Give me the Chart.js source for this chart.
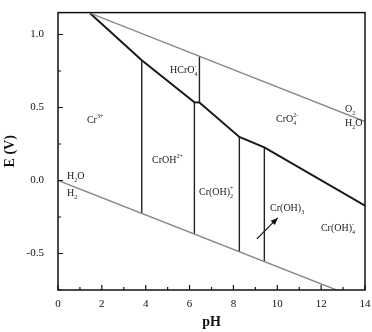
<!DOCTYPE html>
<html>
<head>
<meta charset="utf-8">
<script src="https://cdn.jsdelivr.net/npm/chart.js@4/dist/chart.umd.min.js"></script>
<style>
    html, body { margin: 0; padding: 0; background: #ffffff; }
</style>
</head>
<body>
<canvas id="pourbaixChart" width="372" height="332"></canvas>
<script>
// water stability lines
const o2LinePH = [1.46, 14];
const o2LineE = [1.146, 0.404];
const h2LinePH = [0, 12.7];
const h2LineE = [0, -0.75];

// Cr(VI) / Cr(III) boundary
const boundaryPH = [1.46, 3.82, 6.22, 6.45, 8.27, 9.41, 14];
const boundaryE = [1.146, 0.823, 0.536, 0.535, 0.298, 0.227, -0.172];

// vertical boundaries
const verticalPH = [3.82, 6.22, 6.45, 8.27, 9.41];
const verticalTopE = [0.823, 0.536, 0.849, 0.298, 0.227];
const verticalBottomE = [-0.225, -0.367, 0.535, -0.488, -0.555];

// arrow pointing to Cr(OH)3 label
const arrowPH = [9.07, 10.02];
const arrowE = [-0.40, -0.256];

// species labels (left edge pH, middle E)
const speciesText = ['Cr^{3+}', 'HCrO_{4}^{-}', 'CrOH^{2+}', 'CrO_{4}^{2-}', 'O_{2}', 'H_{2}O',
    'H_{2}O', 'H_{2}', 'Cr(OH)_{2}^{+}', 'Cr(OH)_{3}', 'Cr(OH)_{4}^{-}'];
const speciesPH = [1.32, 5.11, 4.29, 9.94, 13.09, 13.09, 0.41, 0.41, 6.43, 9.67, 11.99];
const speciesE = [0.41, 0.755, 0.14, 0.417, 0.49, 0.39, 0.025, -0.086, -0.08, -0.192, -0.331];

// ticks
const xTickValues = [0, 1, 2, 3, 4, 5, 6, 7, 8, 9, 10, 11, 12, 13, 14];
const xTickLabels = ['0', '', '2', '', '4', '', '6', '', '8', '', '10', '', '12', '', '14'];
const yTickValues = [-0.75, -0.5, -0.25, 0, 0.25, 0.5, 0.75, 1.0];
const yTickLabels = ['', '-0.5', '', '0.0', '', '0.5', '', '1.0'];

const SERIF = "'Liberation Serif', 'Times New Roman', serif";

function toPoints(xs, ys) {
    return xs.map((v, i) => ({ x: v, y: ys[i] }));
}

// draw text like "Cr(OH)_{2}^{+}" with stacked sub/superscripts
function drawChem(ctx, str, x, y) {
    const parts = str.match(/_\{[^}]*\}|\^\{[^}]*\}|[^_^]+/g);
    let cx = x;
    let subStart = null, subWidth = 0;
    ctx.textBaseline = 'middle';
    ctx.textAlign = 'left';
    parts.forEach(p => {
        if (p[0] === '_') {
            const t = p.slice(2, -1);
            ctx.font = '6px ' + SERIF;
            ctx.fillText(t, cx, y + 4);
            subStart = cx;
            subWidth = ctx.measureText(t).width;
            cx += subWidth;
        } else if (p[0] === '^') {
            const t = p.slice(2, -1);
            ctx.font = '6px ' + SERIF;
            const sx = subStart !== null ? subStart : cx;
            ctx.fillText(t, sx, y - 4);
            const w = ctx.measureText(t).width;
            cx = Math.max(cx, sx + w);
            subStart = null;
        } else {
            ctx.font = '10px ' + SERIF;
            ctx.fillText(p, cx, y);
            cx += ctx.measureText(p).width;
            subStart = null;
        }
    });
}

const decorPlugin = {
    id: 'decor',
    afterDatasetsDraw(chart) {
        const { ctx, chartArea: a, scales: { x, y } } = chart;
        ctx.save();

        // frame
        ctx.strokeStyle = '#111111';
        ctx.lineWidth = 1.5;
        ctx.strokeRect(a.left, a.top, a.right - a.left, a.bottom - a.top);

        // inward tick marks
        ctx.lineWidth = 1.2;
        ctx.beginPath();
        x.ticks.forEach(t => {
            const px = x.getPixelForValue(t.value);
            const len = t.label ? 5 : 3;
            ctx.moveTo(px, a.bottom);
            ctx.lineTo(px, a.bottom - len);
        });
        y.ticks.forEach(t => {
            const py = y.getPixelForValue(t.value);
            const len = t.label ? 5 : 3;
            ctx.moveTo(a.left, py);
            ctx.lineTo(a.left + len, py);
        });
        ctx.stroke();

        // arrow head
        const x0 = x.getPixelForValue(arrowPH[0]), y0 = y.getPixelForValue(arrowE[0]);
        const x1 = x.getPixelForValue(arrowPH[1]), y1 = y.getPixelForValue(arrowE[1]);
        const ang = Math.atan2(y1 - y0, x1 - x0);
        ctx.fillStyle = '#111111';
        ctx.beginPath();
        ctx.moveTo(x1, y1);
        ctx.lineTo(x1 - 7 * Math.cos(ang) + 3 * Math.sin(ang), y1 - 7 * Math.sin(ang) - 3 * Math.cos(ang));
        ctx.lineTo(x1 - 7 * Math.cos(ang) - 3 * Math.sin(ang), y1 - 7 * Math.sin(ang) + 3 * Math.cos(ang));
        ctx.closePath();
        ctx.fill();

        // species labels
        ctx.fillStyle = '#222222';
        speciesText.forEach((s, i) => {
            drawChem(ctx, s, x.getPixelForValue(speciesPH[i]), y.getPixelForValue(speciesE[i]));
        });

        // axis titles
        ctx.fillStyle = '#111111';
        ctx.font = 'bold 14px ' + SERIF;
        ctx.textAlign = 'center';
        ctx.textBaseline = 'middle';
        ctx.fillText('pH', (a.left + a.right) / 2, 322);
        ctx.save();
        ctx.translate(10, (a.top + a.bottom) / 2);
        ctx.rotate(-Math.PI / 2);
        ctx.fillText('E (V)', 0, 0);
        ctx.restore();

        ctx.restore();
    }
};

const lineStyle = { showLine: true, pointRadius: 0, fill: false, tension: 0 };

const datasets = [
    { ...lineStyle, data: toPoints(o2LinePH, o2LineE), borderColor: '#8a8a8a', borderWidth: 1.4 },
    { ...lineStyle, data: toPoints(h2LinePH, h2LineE), borderColor: '#8a8a8a', borderWidth: 1.4 },
    { ...lineStyle, data: toPoints(boundaryPH, boundaryE), borderColor: '#1a1a1a', borderWidth: 2 },
    ...verticalPH.map((ph, i) => ({
        ...lineStyle,
        data: [{ x: ph, y: verticalTopE[i] }, { x: ph, y: verticalBottomE[i] }],
        borderColor: '#222222',
        borderWidth: 1.4
    })),
    { ...lineStyle, data: toPoints(arrowPH, arrowE), borderColor: '#111111', borderWidth: 1.2 }
];

new Chart(document.getElementById('pourbaixChart').getContext('2d'), {
    type: 'scatter',
    data: { datasets },
    options: {
        responsive: false,
        animation: false,
        devicePixelRatio: 1,
        layout: { padding: { top: 3, right: 7, left: 0, bottom: 0 } },
        plugins: { legend: { display: false }, tooltip: { enabled: false } },
        scales: {
            x: {
                type: 'linear',
                min: 0,
                max: 14,
                afterBuildTicks: s => { s.ticks = xTickValues.map(v => ({ value: v })); },
                afterFit: s => { s.height = 42; },
                grid: { display: false },
                border: { display: false },
                ticks: {
                    autoSkip: false,
                    maxRotation: 0,
                    padding: 0,
                    color: '#111111',
                    font: { family: SERIF, size: 11 },
                    callback: (v, i) => xTickLabels[i]
                }
            },
            y: {
                type: 'linear',
                min: -0.75,
                max: 1.15,
                afterBuildTicks: s => { s.ticks = yTickValues.map(v => ({ value: v })); },
                afterFit: s => { s.width = 58; },
                grid: { display: false },
                border: { display: false },
                ticks: {
                    autoSkip: false,
                    padding: 6,
                    color: '#111111',
                    font: { family: SERIF, size: 11 },
                    callback: (v, i) => yTickLabels[i]
                }
            }
        }
    },
    plugins: [decorPlugin]
});
</script>
</body>
</html>
